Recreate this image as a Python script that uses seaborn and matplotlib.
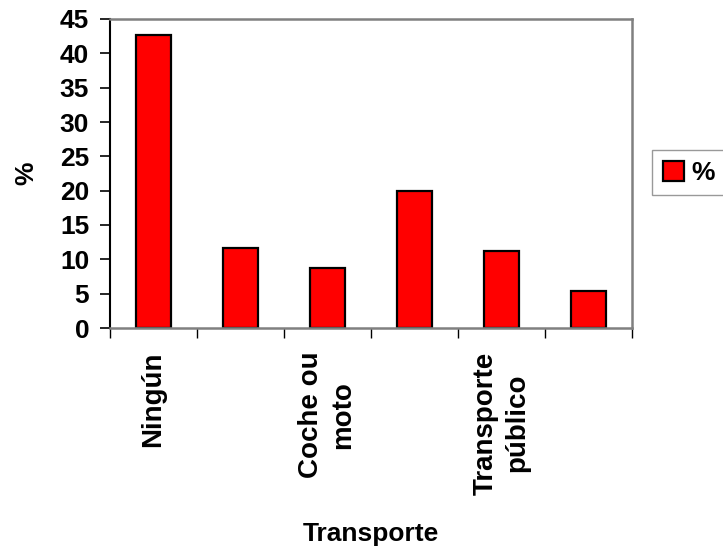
import matplotlib
matplotlib.use("Agg")
import matplotlib.pyplot as plt
import matplotlib.patches as mpatches
import seaborn as sns
import pandas as pd

# Data
positions = [0, 1, 2, 3, 4, 5]
values = [42.6, 11.6, 8.8, 20.0, 11.2, 5.4]
tick_labels = ["Ningún", "Coche ou\nmoto", "Transporte\npúblico"]
tick_label_positions = [0, 2, 4]
y_ticks = [0, 5, 10, 15, 20, 25, 30, 35, 40, 45]
series_name = "%"
x_title = "Transporte"
y_title = "%"

sns.set_style("white")
plt.rcParams["font.family"] = ["Liberation Sans", "DejaVu Sans"]
plt.rcParams["font.weight"] = "bold"
plt.rcParams["text.color"] = "black"
plt.rcParams["axes.labelcolor"] = "black"
plt.rcParams["xtick.color"] = "black"
plt.rcParams["ytick.color"] = "black"

df = pd.DataFrame({"pos": positions, "value": values})

fig = plt.figure(figsize=(7.23, 5.55), dpi=100)
ax = fig.add_axes([110 / 723, 1 - 328 / 555, 522 / 723, 309 / 555])

sns.barplot(data=df, x="pos", y="value", ax=ax, color="#FF0000",
            saturation=1, width=0.4, edgecolor="black", linewidth=1.6)

ax.set_xlim(-0.5, 5.5)
ax.set_ylim(0, 45)

# Major ticks at category boundaries (marks only), minor ticks for labels
ax.set_xticks([p - 0.5 for p in positions] + [positions[-1] + 0.5])
ax.set_xticklabels([])
ax.set_xticks(tick_label_positions, minor=True)
ax.set_xticklabels(tick_labels, minor=True, rotation=90, va="top", ha="center",
                   fontsize=20, fontweight="bold", color="black",
                   linespacing=1.3)
ax.tick_params(axis="x", which="major", direction="out", length=7, width=1,
               color="black", bottom=True)
ax.tick_params(axis="x", which="minor", length=0, pad=17)

ax.set_yticks(y_ticks)
ax.set_yticklabels([str(t) for t in y_ticks], fontsize=19, fontweight="bold",
                   color="black")
ax.tick_params(axis="y", direction="out", length=7, width=1.2, color="black",
               left=True, pad=8)

for side in ["top", "right", "bottom"]:
    ax.spines[side].set_visible(True)
    ax.spines[side].set_color("#808080")
    ax.spines[side].set_linewidth(1.8)
ax.spines["left"].set_color("black")
ax.spines["left"].set_linewidth(1.5)

ax.set_xlabel(x_title, fontsize=19, fontweight="bold", color="black")
ax.xaxis.set_label_coords(0.5, (328 - 522) / 309)
ax.set_ylabel(y_title, fontsize=19, fontweight="bold", color="black")
ax.yaxis.set_label_coords((38 - 110) / 522, 0.5)

handle = mpatches.Patch(facecolor="#FF0000", edgecolor="black", linewidth=1.6,
                        label=series_name)
leg = fig.legend(handles=[handle], loc="upper left",
                 bbox_to_anchor=(652 / 723, 1 - 150 / 555),
                 borderaxespad=0, frameon=True, fancybox=False,
                 edgecolor="#808080", handlelength=0.8, handleheight=0.8,
                 handletextpad=0.3, borderpad=0.4,
                 prop={"size": 19, "weight": "bold"})
leg.get_frame().set_linewidth(1.0)
for t in leg.get_texts():
    t.set_color("black")

fig.savefig("out.png", dpi=100)
